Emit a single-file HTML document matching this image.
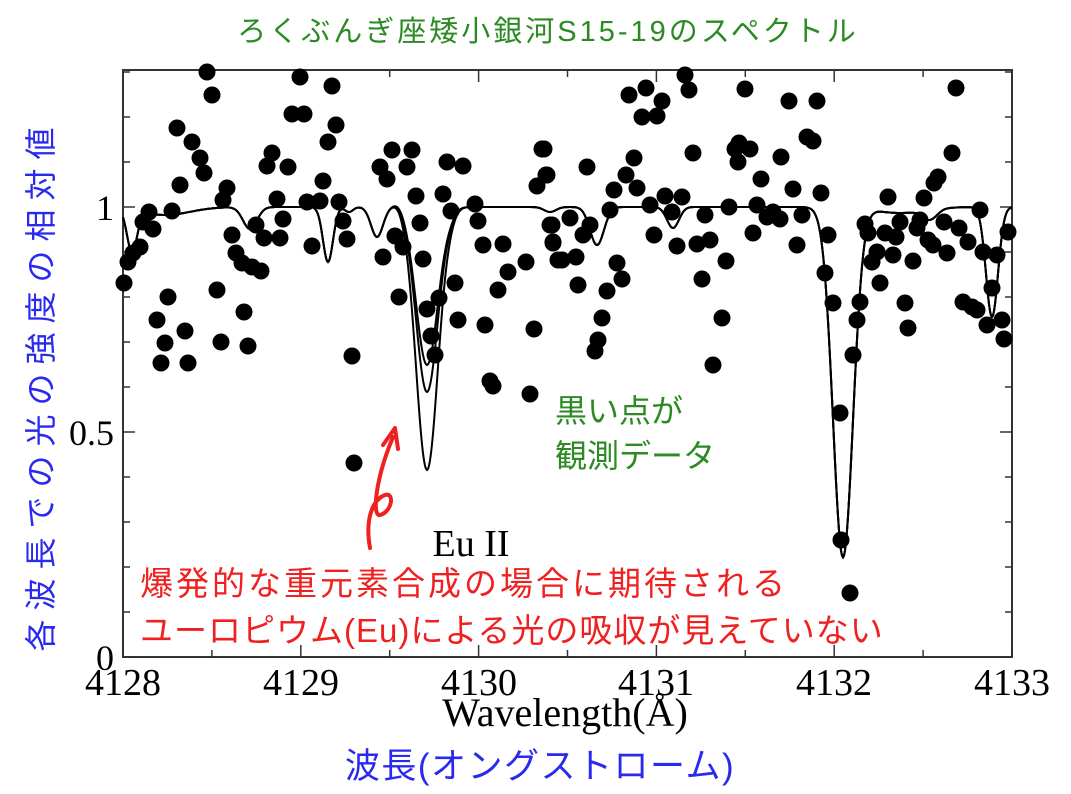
<!DOCTYPE html>
<html><head><meta charset="utf-8"><style>
html,body{margin:0;padding:0;background:#fff;}
body{width:1071px;height:794px;overflow:hidden;position:relative;}
svg{position:absolute;left:0;top:0;}
.jp{font-family:"Liberation Sans","Noto Sans CJK JP",sans-serif;}
.sr{font-family:"Liberation Serif",serif;}
</style></head><body>
<svg id="s" width="1071" height="794" viewBox="0 0 1071 794">
<rect x="123" y="70" width="889" height="587" fill="none" stroke="#333" stroke-width="2"/>
<g id="ticks" stroke="#333" stroke-width="1.5"></g>
<g id="dots" fill="#000"></g>
<g id="lines" fill="none" stroke="#000" stroke-width="2"></g>
<g class="sr" font-size="38" fill="#000" text-anchor="middle">
<text x="123" y="695">4128</text><text x="301" y="695">4129</text><text x="479" y="695">4130</text>
<text x="656" y="695">4131</text><text x="834" y="695">4132</text><text x="1012" y="695">4133</text>
</g>
<g class="sr" font-size="36" fill="#000" text-anchor="end">
<text x="114" y="220">1</text><text x="114" y="445">0.5</text><text x="114" y="670">0</text>
</g>
<text class="sr" x="565" y="726" font-size="40" text-anchor="middle">Wavelength(Å)</text>
<text class="sr" x="471" y="556" font-size="38" text-anchor="middle">Eu II</text>
<text class="jp" x="548" y="41" font-size="29" fill="#2b8a22" text-anchor="middle" letter-spacing="3">ろくぶんぎ座矮小銀河S15-19のスペクトル</text>
<text class="jp" x="555" y="422" font-size="32" fill="#2b8a22">黒い点が</text>
<text class="jp" x="555" y="467" font-size="32" fill="#2b8a22">観測データ</text>
<text class="jp" x="140" y="595" font-size="33" fill="#f02020" letter-spacing="3">爆発的な重元素合成の場合に期待される</text>
<text class="jp" x="140" y="642" font-size="33" fill="#f02020" letter-spacing="1">ユーロピウム(Eu)による光の吸収が見えていない</text>
<text class="jp" x="540" y="778" font-size="35" fill="#2a2aee" text-anchor="middle" letter-spacing="1.5">波長(オングストローム)</text>
<text class="jp" transform="translate(52,385) rotate(-90)" font-size="32" fill="#2a2aee" text-anchor="middle" letter-spacing="9">各波長での光の強度の相対値</text>
<path d="M370,548 C365,520 372,500 385,495 C395,492 392,512 380,515 C372,517 375,480 393,437" fill="none" stroke="#f02020" stroke-width="4" stroke-linecap="round"/>
<path d="M383,445 L395,428 L398,449" fill="none" stroke="#f02020" stroke-width="4" stroke-linecap="round" stroke-linejoin="round"/>
</svg>
<script>
var NS="http://www.w3.org/2000/svg";
function el(t,a,p){var e=document.createElementNS(NS,t);for(var k in a)e.setAttribute(k,a[k]);p.appendChild(e);}
var tg=document.getElementById('ticks');
for(var i=0;i<=10;i++){var x=123+i*88.9,L=(i%2==0)?12:7;
el('line',{x1:x,y1:657,x2:x,y2:657-L},tg);el('line',{x1:x,y1:70,x2:x,y2:70+L},tg);}
for(var v=0;v<=13;v++){var y=657-v*45,L=(v%5==0)?12:7;
el('line',{x1:123,y1:y,x2:123+L,y2:y},tg);el('line',{x1:1012,y1:y,x2:1012-L,y2:y},tg);}
var D=[[207,72],[212,95],[177,128],[192,142],[200,158],[204,173],[180,185],[149,212],[143,222],[153,229],[172,211],[140,247],[133,253],[128,262],[124,283],[168,297],[157,320],[165,343],[161,363],[185,331],[188,363],[217,290],[221,342],[244,312],[248,346],[227,188],[223,200],[232,235],[236,253],[242,263],[252,267],[261,271],[256,225],[264,238],[280,238],[283,219],[277,199],[272,153],[267,166],[288,167],[292,114],[304,114],[300,77],[332,86],[336,125],[328,142],[323,181],[320,201],[307,202],[339,202],[343,221],[347,239],[312,246],[352,356],[354,463],[383,257],[380,167],[387,179],[392,150],[412,150],[407,167],[416,196],[420,223],[395,236],[403,247],[423,259],[399,297],[427,309],[439,298],[431,336],[435,355],[455,283],[458,320],[485,325],[490,381],[493,386],[530,394],[498,290],[508,272],[503,244],[483,245],[478,221],[475,204],[447,162],[463,166],[443,194],[451,211],[526,262],[534,329],[542,149],[546,175],[537,186],[550,225],[553,243],[558,260],
[685,75],[689,90],[646,88],[629,95],[662,101],[642,117],[657,116],[745,89],[789,101],[817,101],[956,88],[952,153],[938,177],[934,183],[924,198],[888,197],[807,137],[813,141],[781,157],[793,189],[821,193],[802,215],[797,245],[828,235],[825,273],[833,303],[853,355],[860,302],[857,320],[544,149],[547,175],[552,225],[553,242],[562,260],[570,218],[576,257],[578,285],[583,235],[590,225],[587,167],[607,291],[602,318],[598,340],[595,351],[617,263],[622,279],[610,210],[614,190],[626,175],[634,158],[637,188],[650,205],[654,235],[665,196],[672,212],[682,197],[677,246],[697,244],[710,240],[705,215],[702,279],[693,153],[722,318],[713,365],[726,261],[729,207],[735,149],[739,143],[750,149],[738,162],[761,179],[757,205],[753,233],[767,217],[773,212],[780,219],[865,224],[868,233],[877,252],[872,262],[893,255],[885,233],[896,237],[900,222],[880,283],[913,261],[905,303],[908,328],[917,228],[920,220],[928,240],[933,245],[947,253],[944,222],[959,228],[968,242],[980,210],[983,252],[997,255],[992,288],[963,302],[972,307],[977,310],[987,325],[1002,320],[1004,339],[1008,232],[840,413],[841,540],[850,593]];
var dg=document.getElementById('dots');
D.forEach(function(p){el('circle',{cx:p[0],cy:p[1],r:8.5},dg);});
var base=[[132,42,5],[165,8,25],[250,22,7],[328,55,5],[349,5,4],[377,30,6],[450,5,5],[550,5,6],[597,38,7],[673,21,6],[843,350,10],[900,6,25],[930,10,7],[992,110,6]];
var lg=document.getElementById('lines');
[263,185,158].forEach(function(eu){
var d='';for(var x=123;x<=1012;x+=1){var y=207;
base.forEach(function(b){y+=b[1]*Math.exp(-(x-b[0])*(x-b[0])/(2*b[2]*b[2]));});
y+=eu*Math.exp(-(x-427)*(x-427)/(2*11*11));
y-=4*Math.exp(-(x-398)*(x-398)/(2*5*5));
d+=(x==123?'M':'L')+x+','+y.toFixed(1);}
el('path',{d:d},lg);});
</script>
</body></html>
